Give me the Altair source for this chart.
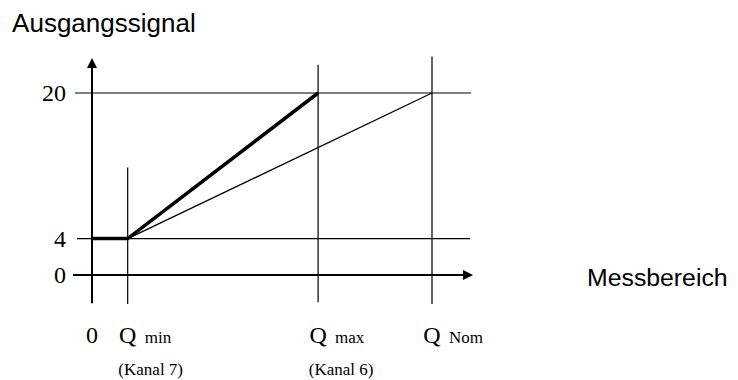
import altair as alt
import pandas as pd

# ---- data (schematic units) ----
# y axis tick labels
y_labels = ["0", "4", "20"]
y_pos = [0, 4, 20]

# x axis labels
x_labels = ["0", "Q", "Q", "Q"]
x_pos = [0, 10.5, 66.5, 100]
sub_labels = ["min", "max", "Nom"]
sub_pos = [10.5, 66.5, 100]
kanal_labels = ["(Kanal 7)", "(Kanal 6)"]
kanal_pos = [10.5, 66.5]

# characteristic curves
thick_x = [0, 10.5, 66.5]
thick_y = [4, 4, 20]
thin_x = [10.5, 100]
thin_y = [4, 20]

# horizontal guide lines (y = 20, y = 4)
h_y = [20, 4]
h_x1 = [-5.0, -4.4]
h_x2 = [111.5, 111.2]

# vertical guide lines (Qmin, Qmax, QNom)
v_x = [10.5, 66.5, 100]
v_y1 = [-3.2, -3.0, -3.2]
v_y2 = [11.8, 23.1, 24.0]

# axes with arrows
ax_x1, ax_x2 = -5.6, 110.6
ax_y1, ax_y2 = -3.1, 23.3

# ---- scales ----
W, H = 722, 372
X_DOMAIN = [-84 / 3.4, (W - 84) / 3.4]
Y_DOMAIN = [-(H - 267) / 9.1, 267 / 9.1]
xs = alt.Scale(domain=X_DOMAIN, nice=False, zero=False)
ys = alt.Scale(domain=Y_DOMAIN, nice=False, zero=False)

def X(f="x"):
    return alt.X(f"{f}:Q", scale=xs, axis=None)

def Y(f="y"):
    return alt.Y(f"{f}:Q", scale=ys, axis=None)

SERIF = "Liberation Serif"
SANS = "Liberation Sans"

hlines = pd.DataFrame({"x": h_x1, "x2": h_x2, "y": h_y})
vlines = pd.DataFrame({"x": v_x, "y": v_y1, "y2": v_y2})

h_layer = alt.Chart(hlines).mark_rule(color="black", strokeWidth=1.2).encode(
    x=X(), x2="x2:Q", y=Y())
v_layer = alt.Chart(vlines).mark_rule(color="black", strokeWidth=1.2).encode(
    x=X(), y=Y(), y2="y2:Q")

xaxis = alt.Chart(pd.DataFrame({"x": [ax_x1], "x2": [ax_x2], "y": [0]})).mark_rule(
    color="black", strokeWidth=2).encode(x=X(), x2="x2:Q", y=Y())
yaxis = alt.Chart(pd.DataFrame({"x": [0], "y": [ax_y1], "y2": [ax_y2]})).mark_rule(
    color="black", strokeWidth=2).encode(x=X(), y=Y(), y2="y2:Q")

arrow_r = alt.Chart(pd.DataFrame({"x": [ax_x2], "y": [0]})).mark_point(
    shape="M1,0L-1,-1L-1,1Z", size=100, filled=True, color="black", opacity=1,
    strokeWidth=0).encode(x=X(), y=Y())
arrow_u = alt.Chart(pd.DataFrame({"x": [0], "y": [ax_y2]})).mark_point(
    shape="M0,-1L-1,1L1,1Z", size=100, filled=True, color="black", opacity=1,
    strokeWidth=0).encode(x=X(), y=Y())

thick = alt.Chart(pd.DataFrame({"x": thick_x, "y": thick_y, "o": range(len(thick_x))})).mark_line(
    color="black", strokeWidth=3.5, strokeJoin="miter").encode(x=X(), y=Y(), order="o:O")
thin = alt.Chart(pd.DataFrame({"x": thin_x, "y": thin_y, "o": range(len(thin_x))})).mark_line(
    color="black", strokeWidth=1.3).encode(x=X(), y=Y(), order="o:O")

ytext = alt.Chart(pd.DataFrame({"x": [0] * 3, "y": y_pos, "t": y_labels})).mark_text(
    font=SERIF, fontSize=24, align="right", baseline="middle", dx=-26, dy=1,
    color="black").encode(x=X(), y=Y(), text="t:N")
xtext = alt.Chart(pd.DataFrame({"x": x_pos, "y": [0] * 4, "t": x_labels})).mark_text(
    font=SERIF, fontSize=24, align="center", baseline="alphabetic", dy=68,
    color="black").encode(x=X(), y=Y(), text="t:N")
subtext = alt.Chart(pd.DataFrame({"x": sub_pos, "y": [0] * 3, "t": sub_labels})).mark_text(
    font=SERIF, fontSize=17, align="left", baseline="alphabetic", dx=17, dy=68,
    color="black").encode(x=X(), y=Y(), text="t:N")
kanal = alt.Chart(pd.DataFrame({"x": kanal_pos, "y": [0] * 2, "t": kanal_labels})).mark_text(
    font=SERIF, fontSize=17, align="center", baseline="alphabetic", dx=23, dy=100,
    color="black").encode(x=X(), y=Y(), text="t:N")

title_y = alt.Chart(pd.DataFrame({"x": [-23.5], "y": [26.7], "t": ["Ausgangssignal"]})).mark_text(
    font=SANS, fontSize=26, align="left", baseline="alphabetic", color="black").encode(
    x=X(), y=Y(), text="t:N")
title_x = alt.Chart(pd.DataFrame({"x": [145.6], "y": [0], "t": ["Messbereich"]})).mark_text(
    font=SANS, fontSize=24.8, align="left", baseline="alphabetic", dy=11, color="black").encode(
    x=X(), y=Y(), text="t:N")

chart = alt.layer(
    h_layer, v_layer, xaxis, yaxis, arrow_r, arrow_u, thin, thick,
    ytext, xtext, subtext, kanal, title_y, title_x
).properties(
    width=W, height=H, autosize=alt.AutoSizeParams(type="none"), padding=0
).configure_view(stroke=None)

chart.save("out.html", embed_options={"renderer": "svg", "actions": False})
